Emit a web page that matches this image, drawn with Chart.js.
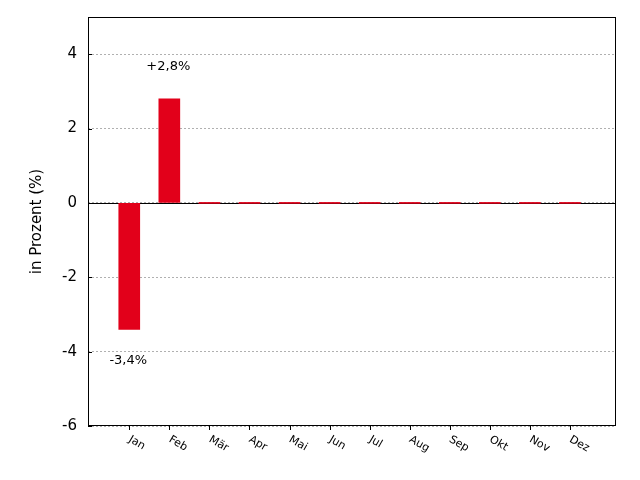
<!DOCTYPE html>
<html>
<head>
<meta charset="utf-8">
<script src="https://cdn.jsdelivr.net/npm/chart.js@4/dist/chart.umd.min.js"></script>
<style>
  html, body { margin: 0; padding: 0; background: #fff; }
  #wrap { width: 640px; height: 480px; }
</style>
</head>
<body>
<div id="wrap"><canvas id="chart" width="640" height="480"></canvas></div>
<script>
// Monatliche Veränderung in Prozent
const months = ['Jan', 'Feb', 'Mär', 'Apr', 'Mai', 'Jun', 'Jul', 'Aug', 'Sep', 'Okt', 'Nov', 'Dez'];
const values = [-3.4, 2.8, 0, 0, 0, 0, 0, 0, 0, 0, 0, 0];
const yTicks = [-6, -4, -2, 0, 2, 4];

const red = '#e2001a';
const fontFamily = '"DejaVu Sans", sans-serif';

function fmtLabel(v) {
    const s = Math.abs(v).toFixed(1).replace('.', ',') + '%';
    return (v > 0 ? '+' : '-') + s;
}

// Rahmen, Nulllinie, Tickmarken, Beschriftungen
const decorations = {
    id: 'decorations',
    beforeDatasetsDraw(chart) {
        const { ctx, chartArea, scales } = chart;
        const y0 = Math.round(scales.y.getPixelForValue(0)) + 0.5;
        ctx.save();
        ctx.strokeStyle = '#000';
        ctx.lineWidth = 1;
        ctx.beginPath();
        ctx.moveTo(chartArea.left, y0);
        ctx.lineTo(chartArea.right, y0);
        ctx.stroke();
        ctx.restore();
    },
    afterDraw(chart) {
        const { ctx, chartArea, scales } = chart;
        const { left, right, top, bottom } = chartArea;
        ctx.save();
        ctx.strokeStyle = '#000';
        ctx.lineWidth = 1;
        ctx.strokeRect(Math.round(left) + 0.5, Math.round(top) + 0.5,
            Math.round(right - left) - 1, Math.round(bottom - top) - 1);

        // y-Ticks nach innen
        ctx.beginPath();
        yTicks.forEach(t => {
            const py = Math.round(scales.y.getPixelForValue(t)) + 0.5;
            ctx.moveTo(left, py);
            ctx.lineTo(left + 4, py);
        });
        // x-Ticks nach außen
        months.forEach((m, i) => {
            const px = Math.round(scales.x.getPixelForValue(i + 1)) + 0.5;
            ctx.moveTo(px, bottom);
            ctx.lineTo(px, bottom + 4);
        });
        ctx.stroke();

        // x-Beschriftungen, im Uhrzeigersinn gedreht
        ctx.fillStyle = '#000';
        ctx.font = '11px ' + fontFamily;
        ctx.textAlign = 'left';
        ctx.textBaseline = 'top';
        months.forEach((m, i) => {
            const px = scales.x.getPixelForValue(i + 1);
            ctx.save();
            ctx.translate(px + 3, bottom + 8);
            ctx.rotate(Math.PI / 6);
            ctx.fillText(m, 0, 0);
            ctx.restore();
        });

        // Werte an den Balken
        ctx.font = '13px ' + fontFamily;
        ctx.textAlign = 'center';
        ctx.textBaseline = 'middle';
        const meta = chart.getDatasetMeta(0);
        values.forEach((v, i) => {
            if (v === 0) return;
            const bar = meta.data[i];
            const ly = v > 0 ? bar.y - 32 : bar.y + 31;
            ctx.fillText(fmtLabel(v), bar.x - 1, ly);
        });
        ctx.restore();
    }
};

new Chart(document.getElementById('chart'), {
    type: 'bar',
    data: {
        datasets: [{
            data: months.map((m, i) => ({ x: i + 1, y: values[i] })),
            backgroundColor: red,
            borderWidth: 0,
            barThickness: 21,
            minBarLength: 1
        }]
    },
    options: {
        responsive: false,
        animation: false,
        events: [],
        layout: { padding: { left: 0, top: 17, right: 24, bottom: 0 } },
        scales: {
            x: {
                type: 'linear',
                min: -0.03,
                max: 13.15,
                offset: false,
                grid: { display: false, offset: false },
                border: { display: false },
                ticks: { display: false },
                afterFit(scale) {
                    scale.height = 54;
                    scale.paddingLeft = 0;
                    scale.paddingRight = 0;
                }
            },
            y: {
                min: -6,
                max: 5,
                afterBuildTicks(scale) { scale.ticks = yTicks.map(v => ({ value: v })); },
                grid: { color: '#b0b0b0', drawTicks: false },
                border: { display: false, dash: [2, 2] },
                ticks: {
                    color: '#000',
                    padding: 11,
                    font: { family: fontFamily, size: 15 },
                    callback: v => String(v)
                },
                title: {
                    display: true,
                    text: 'in Prozent (%)',
                    color: '#000',
                    font: { family: fontFamily, size: 15 },
                    padding: { top: 28, bottom: 0 }
                },
                afterFit(scale) {
                    scale.width = 88;
                    scale.paddingTop = 0;
                    scale.paddingBottom = 0;
                }
            }
        },
        plugins: {
            legend: { display: false },
            tooltip: { enabled: false }
        }
    },
    plugins: [decorations]
});
</script>
</body>
</html>
